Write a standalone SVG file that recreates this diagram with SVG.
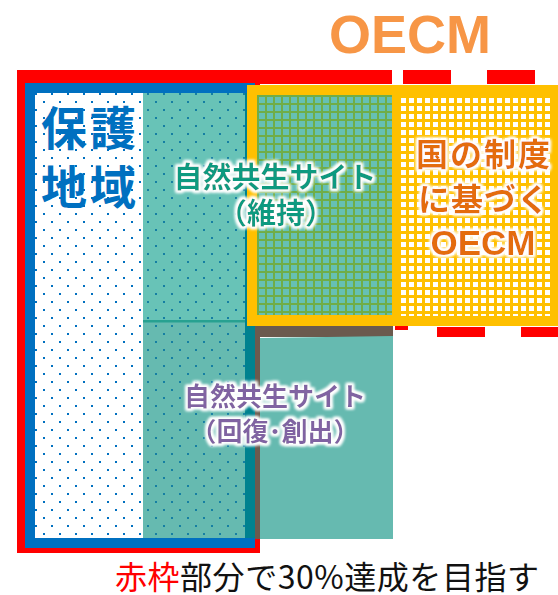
<svg xmlns="http://www.w3.org/2000/svg" width="558" height="595" viewBox="0 0 558 595">
<style>
.jp{font-family:"Noto Sans CJK JP","Noto Sans CJK SC",sans-serif;font-weight:700}
.lat{font-family:"Liberation Sans",Arial,sans-serif;font-weight:700}
.red{fill:#ff0000}
</style>
<defs>
<pattern id="dotsW" width="16" height="16" patternUnits="userSpaceOnUse">
<rect x="3" y="13" width="2" height="2" fill="#0070c0"/>
<rect x="11" y="5" width="2" height="2" fill="#0070c0"/>
</pattern>
<pattern id="dotsT" width="16" height="16" patternUnits="userSpaceOnUse">
<rect x="3" y="13" width="2" height="2" fill="#157fa3"/>
<rect x="11" y="5" width="2" height="2" fill="#157fa3"/>
</pattern>
<pattern id="gridG" x="257" y="95" width="8" height="8" patternUnits="userSpaceOnUse">
<rect width="8" height="8" fill="#66c0b4"/>
<rect x="0" y="0" width="2" height="8" fill="#70ad47"/>
<rect x="0" y="0" width="8" height="2" fill="#70ad47"/>
</pattern>
<pattern id="gridY" x="398" y="95" width="8" height="8" patternUnits="userSpaceOnUse">
<rect width="8" height="8" fill="#ffffff"/>
<rect x="0" y="0" width="3" height="8" fill="#ffc000"/>
<rect x="0" y="0" width="8" height="3" fill="#ffc000"/>
</pattern>
<filter id="glow" x="-10%" y="-30%" width="120%" height="160%">
<feMorphology in="SourceAlpha" operator="dilate" radius="2" result="d"/>
<feGaussianBlur in="d" stdDeviation="1.4" result="b"/>
<feFlood flood-color="#ffffff"/>
<feComposite in2="b" operator="in" result="g"/>
<feMerge><feMergeNode in="g"/><feMergeNode in="g"/><feMergeNode in="SourceGraphic"/></feMerge>
</filter>
</defs>
<rect width="558" height="595" fill="#ffffff"/>

<!-- red 30% frame -->
<g id="red-frame">
<rect x="17" y="70" width="243" height="483" class="red"/>
<rect x="17" y="70" width="375" height="14" class="red"/>
<rect x="403" y="70" width="48" height="14" class="red"/>
<rect x="487" y="70" width="48" height="14" class="red"/>
<rect x="395" y="326" width="13" height="4" class="red"/>
<rect x="437" y="327" width="48" height="10" class="red"/>
<rect x="521" y="327" width="48" height="10" class="red"/>
</g>

<!-- protected area -->
<g id="protected-area">
<rect x="25" y="83" width="230" height="465" fill="#0070c0"/>
<rect x="35" y="93" width="108" height="445" fill="#ffffff"/>
<rect x="35" y="93" width="108" height="445" fill="url(#dotsW)"/>
<rect x="143" y="93" width="102" height="227" fill="#68c3b7"/>
<rect x="143" y="320" width="102" height="218" fill="#66bab0"/>
<rect x="143" y="93" width="102" height="445" fill="url(#dotsT)"/>
<rect x="143" y="320" width="102" height="2.5" fill="#27a191"/>
<rect x="245" y="93" width="10" height="445" fill="#00828f"/>
<text class="jp" font-size="46" fill="#0070c0" text-anchor="middle" letter-spacing="3"><tspan x="90" y="145">保護</tspan><tspan x="90" y="204">地域</tspan></text>
</g>

<!-- restoration site -->
<g id="site-restore">
<rect x="255" y="326" width="138" height="11" fill="#6b5a4e"/>
<rect x="255" y="326" width="5" height="213" fill="#6b5a4e"/>
<polygon points="260,338 393,336 393,539 260,539" fill="#66bab0"/>
<text class="jp" font-size="26" fill="#8064a2" text-anchor="middle" filter="url(#glow)"><tspan x="275" y="406">自然共生サイト</tspan><tspan x="275" y="441">（回復･創出）</tspan></text>
</g>

<!-- OECM (yellow frame) -->
<g id="oecm">
<rect x="247" y="85" width="311" height="241" fill="#ffc000"/>
<rect x="257" y="95" width="135" height="220" fill="url(#gridG)"/>
<rect x="398" y="95" width="155" height="221" fill="url(#gridY)"/>
<text class="jp" font-size="32" fill="#e46c0a" text-anchor="middle" filter="url(#glow)"><tspan x="484" y="166" letter-spacing="2">国の制度</tspan><tspan x="484" y="211" letter-spacing="1">に基づく</tspan><tspan class="lat" x="483" y="255" font-size="35" letter-spacing="0">OECM</tspan></text>
</g>

<!-- maintenance site label -->
<g id="site-maintain">
<text class="jp" font-size="29" fill="#0e9a80" text-anchor="middle" filter="url(#glow)"><tspan x="275" y="188">自然共生サイト</tspan><tspan x="276" y="224">（維持）</tspan></text>
</g>

<g id="oecm-title">
<text class="lat" x="410" y="53" font-size="54" fill="#f79646" text-anchor="middle">OECM</text>
</g>

<g id="caption">
<text x="115" y="589" font-size="32" textLength="424" lengthAdjust="spacing" font-family="'Noto Sans CJK JP','Noto Sans CJK SC',sans-serif" font-weight="400"><tspan fill="#ff0000">赤枠</tspan><tspan fill="#111111">部分で30%達成を目指す</tspan></text>
</g>
</svg>
